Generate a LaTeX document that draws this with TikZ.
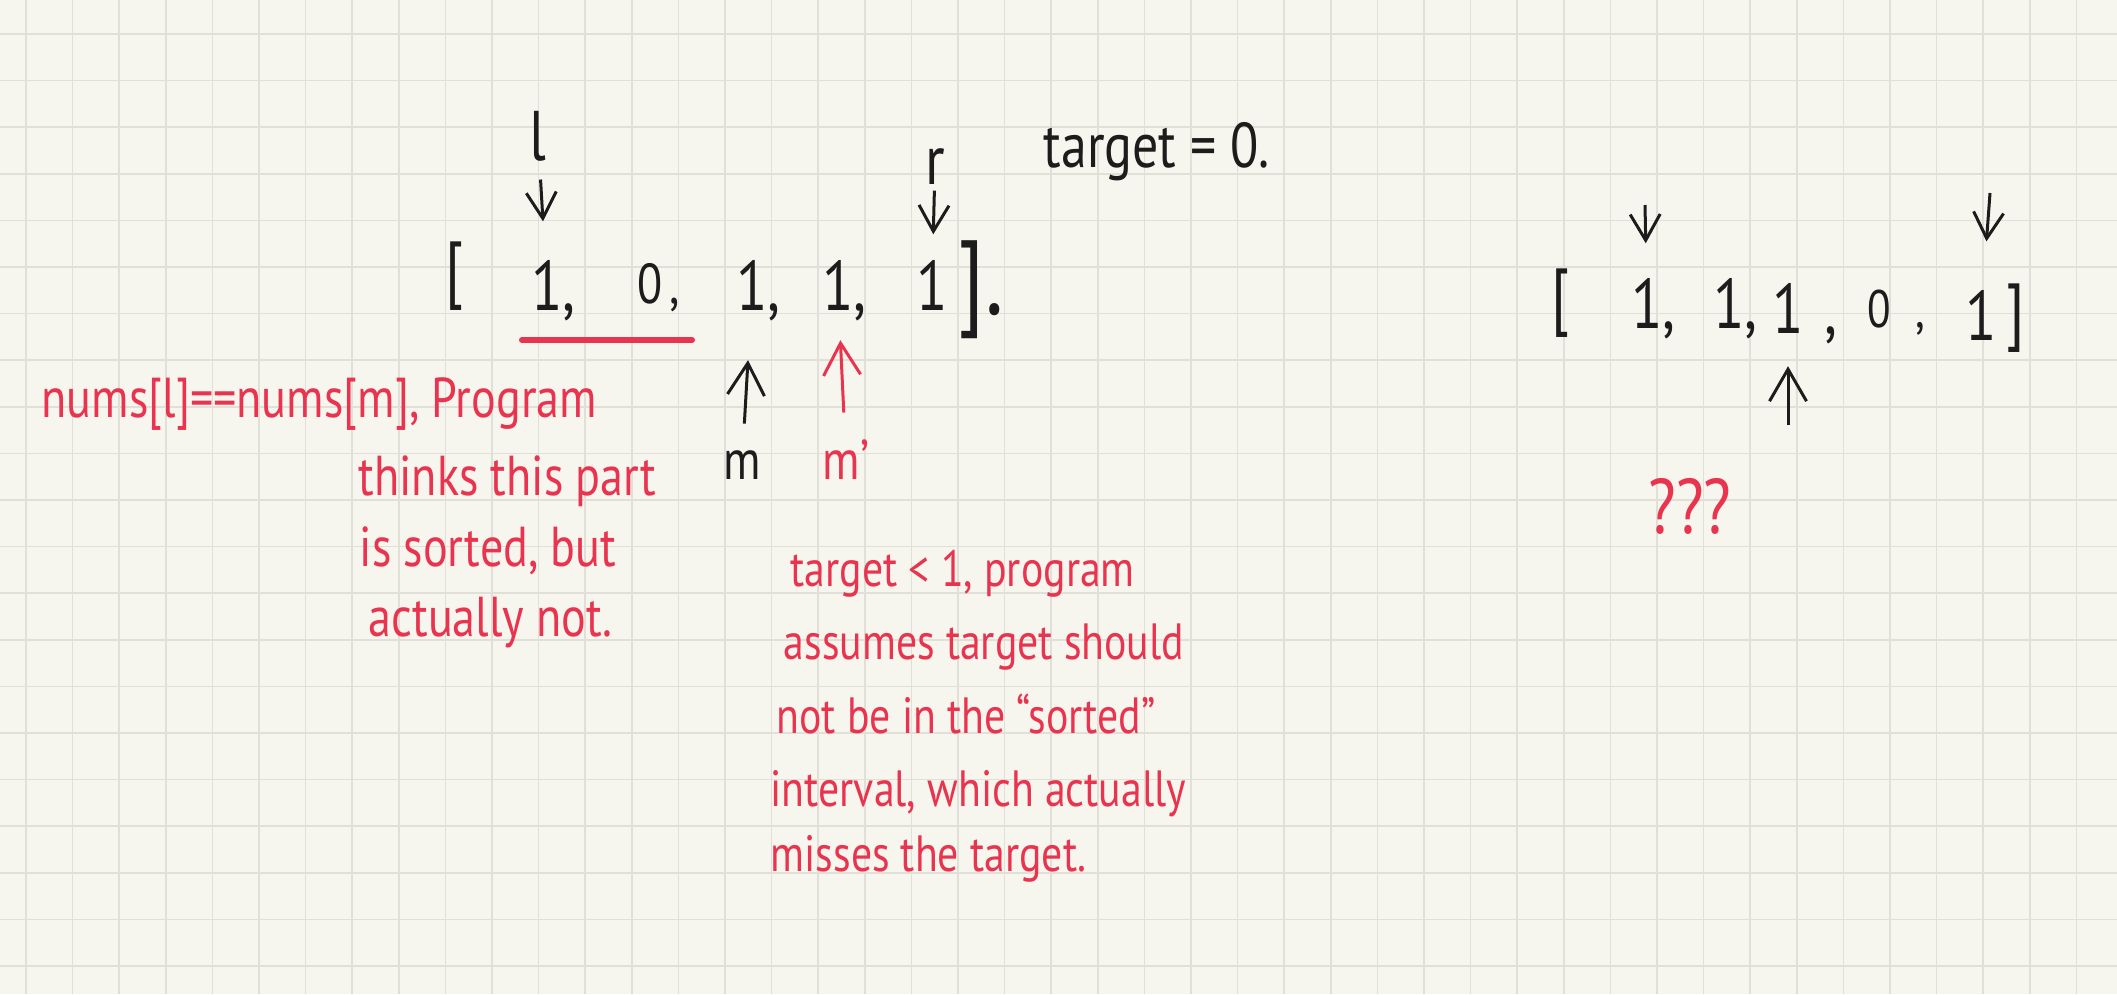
\documentclass[tikz,border=0pt]{standalone}
\usepackage{fontspec}
\setmainfont{PT Sans}[FakeStretch=0.82]
\usepackage{xcolor}
\usepackage{tikz}
\usetikzlibrary{arrows.meta}

\definecolor{paper}{HTML}{F7F6EE}
\definecolor{gridc}{HTML}{E0E0D8}
\definecolor{ink}{HTML}{1C1C1C}
\definecolor{pen}{HTML}{E8344E}
\newcommand{\fsz}[1]{\fontsize{#1}{#1}\selectfont}

\begin{document}
\begin{tikzpicture}[
  x=0.1mm, y=-0.1mm,
  gridline/.style={gridc, line width=0.15mm},
  num/.style={ink, font=\fsz{20}, anchor=base, inner sep=0},
  brk/.style={num, anchor=center},
  note/.style={pen, font=\fsz{16}, anchor=base west, inner sep=0},
  arr/.style={-{Straight Barb[length=2.6mm, width=3.0mm]}, line width=0.3mm, ink},
  bigarr/.style={arr, -{Straight Barb[length=3.2mm, width=3.7mm]}},
  hilite/.style={pen, line width=0.6mm, line cap=round}
]
\fill[paper] (0,0) rectangle (2117,994);
\useasboundingbox (0,0) rectangle (2117,994);
\foreach \gx in {26,72.6,...,2117} \draw[gridline] (\gx,0) -- (\gx,994);
\foreach \gy in {34,80.6,...,994} \draw[gridline] (0,\gy) -- (2117,\gy);

\node[brk, font=\fsz{21}] (lbr) at (455,276) {[};
\node[num] (a1) at (547,310) {1\rlap{,}};
\node[num, font=\fsz{16}] (a2) at (650,303) {0\rlap{\kern2pt,}};
\node[num] (a3) at (752,310) {1\rlap{,}};
\node[num] (a4) at (838,310) {1\rlap{,}};
\node[num] (a5) at (932,310) {1};
\node[brk, font=\fsz{30}] (rbr) at (972,290) {]\rlap{.}};

\node[num] (lp) at (538,160) {l};
\node[num] (rp) at (935,184) {r};
\node[num, font=\fsz{18}, anchor=base west] (tgt) at (1043,167) {target = 0.};
\node[num, font=\fsz{16}] (mp) at (742,479) {m};
\node[num, font=\fsz{16}, pen] (mq) at (846,479) {m'};

\draw[arr, shorten <=1.8mm, shorten >=3.8mm] (lp) -- (a1);
\draw[arr, shorten <=0.6mm, shorten >=2.5mm] (rp) -- (a5);
\draw[bigarr, shorten <=2.6mm, shorten >=3.9mm] (mp) -- (a3);
\draw[bigarr, pen, shorten <=2.6mm, shorten >=1.9mm] (mq) -- (a4);
\coordinate (ulA) at (522,340);
\coordinate (ulB) at (692,340);
\draw[hilite] (ulA) -- (ulB);

\node[note] (n1) at (41,417) {nums[l]==nums[m], Program};
\node[note] (n2) at (358,495) {thinks this part};
\node[note] (n3) at (359,566) {is sorted, but};
\node[note] (n4) at (368,636) {actually not.};

\node[note, font=\fsz{14.5}] (s1) at (790,586) {target < 1, program};
\node[note, font=\fsz{14.5}] (s2) at (783,659) {assumes target should};
\node[note, font=\fsz{14.5}] (s3) at (776,733) {not be in the ``sorted''};
\node[note, font=\fsz{14.5}] (s4) at (770,806) {interval, which actually};
\node[note, font=\fsz{14.5}] (s5) at (770,871) {misses the target.};

\node[brk, font=\fsz{21}] (lbr2) at (1561,303) {[};
\node[num] (b1) at (1647,328) {1\rlap{,}};
\node[num] (b2) at (1729,328) {1\rlap{,}};
\node[num] (b3) at (1788,333) {1\rlap{\kern6pt,}};
\node[num, font=\fsz{15}] (b4) at (1879,327) {0\rlap{\kern7pt,}};
\node[num] (b5) at (1981,340) {1};
\node[brk, font=\fsz{21}] (rbr2) at (2016,318) {]};
\coordinate (p1) at (1645,205);
\coordinate (p5) at (1990,193);
\coordinate (pm) at (1788,425);
\draw[arr, shorten >=3.4mm] (p1) -- (b1);
\draw[arr, shorten >=4.8mm] (p5) -- (b5);
\draw[bigarr, shorten >=2.2mm] (pm) -- (b3);
\node[note, font=\fsz{22}, anchor=center] (qq) at (1690,506) {???};
\end{tikzpicture}
\end{document}
